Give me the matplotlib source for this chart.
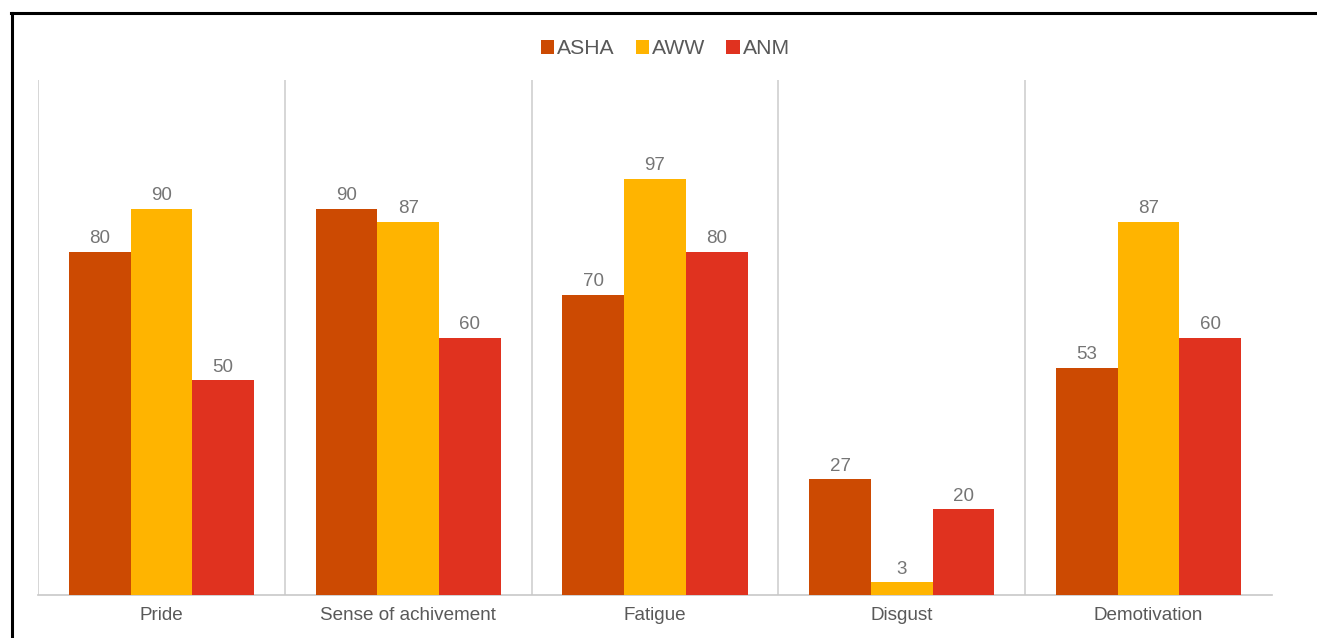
import numpy as np
import matplotlib.pyplot as plt
from matplotlib.lines import Line2D

plt.rcParams['font.family'] = ['Liberation Sans', 'DejaVu Sans']

categories = ['Pride', 'Sense of achivement', 'Fatigue', 'Disgust', 'Demotivation']
series_names = ['ASHA', 'AWW', 'ANM']
asha = [80, 90, 70, 27, 53]
aww = [90, 87, 97, 3, 87]
anm = [50, 60, 80, 20, 60]
colors = ['#CC4A02', '#FFB400', '#E0321F']

fig = plt.figure(figsize=(13.17, 6.38), dpi=100)
ax = fig.add_axes([0.0289, 0.0674, 0.9369, 0.8072])

x = np.arange(len(categories))
width = 0.25
for i, (vals, name, c) in enumerate(zip([asha, aww, anm], series_names, colors)):
    pos = x + (i - 1) * width
    ax.bar(pos, vals, width, color=c, label=name, zorder=3)
    for p, v in zip(pos, vals):
        ax.text(p, v + 1.0, str(v), ha='center', va='bottom',
                fontsize=13.5, color='#757575')

ax.set_xlim(-0.5, len(categories) - 0.5)
ax.set_ylim(0, 120)

# category separators
for b in np.arange(len(categories)) - 0.5:
    ax.axvline(b, color='#D0D0D0', lw=1.2, zorder=1)

for s in ['top', 'right', 'left']:
    ax.spines[s].set_visible(False)
ax.spines['bottom'].set_color('#C8C8C8')
ax.spines['bottom'].set_linewidth(1.2)
ax.set_yticks([])
ax.set_xticks(x)
ax.set_xticklabels(categories, fontsize=13.6, color='#595959')
ax.tick_params(axis='x', length=0, pad=9)

leg = fig.legend(loc='upper center', bbox_to_anchor=(0.505, 0.968), ncol=3,
                 frameon=False, fontsize=15.2, handlelength=0.65, handleheight=0.65,
                 handletextpad=0.12, columnspacing=1.0)
for t in leg.get_texts():
    t.set_color('#595959')

# frame lines at the top and left of the figure
fig.add_artist(Line2D([11 / 1317, 1.0], [1 - 12.5 / 638, 1 - 12.5 / 638],
                      transform=fig.transFigure, color='black', lw=2.2))
fig.add_artist(Line2D([11.5 / 1317, 11.5 / 1317], [0, 1 - 12.5 / 638],
                      transform=fig.transFigure, color='black', lw=2.2))

fig.savefig('out.png', dpi=100)
